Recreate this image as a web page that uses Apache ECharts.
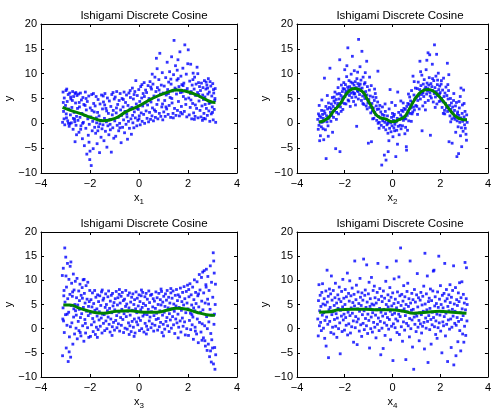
<!DOCTYPE html>
<html><head><meta charset="utf-8">
<script src="https://cdn.jsdelivr.net/npm/echarts@6/dist/echarts.min.js"></script>
<style>html,body{margin:0;padding:0;background:#fff}#c{width:494px;height:411px}</style>
</head><body><div id="c"></div>
<script>
const titleText = 'Ishigami Discrete Cosine';
const xSubs = ['1','2','3','4'];
const xTicks = [-4,-2,0,2,4];
const yTicks = [-10,-5,0,5,10,15,20];

const pts1 = [
[-3.12,0.2],[-3.1,6.3],[-3.08,2.4],[-3.05,5.1],[-3.03,-0.3],[-3.0,3.6],[-2.98,6.6],[-2.96,1.1],[-2.93,4.4],[-2.91,0.5],[-2.89,5.8],[-2.87,2.9],[-2.85,-0.6],[-2.83,6.1],[-2.8,1.7],[-2.78,4.9],[-2.76,0.1],[-2.74,3.2],[-2.71,6.4],[-2.69,-1.2],[-2.67,5.4],[-2.65,2.2],[-2.63,0.8],[-2.61,6.0],[-2.59,4.1],[-2.57,-0.4],[-2.55,1.4],[-2.53,5.6],[-2.51,3.0],[-3.06,0.9],[-2.95,6.9],[-2.82,-0.1],[-2.72,4.6],[-2.62,0.3],[-2.97,1.9],[-2.79,5.3],[-2.58,6.2],[-3.09,4.2],[-2.88,0.0],[-2.68,1.0],[-2.61,-3.7],[-2.55,-2.3],
[-2.49,0.6],[-2.47,5.9],[-2.45,-1.8],[-2.43,3.3],[-2.41,1.2],[-2.39,6.1],[-2.37,-0.5],[-2.35,4.7],[-2.33,2.0],[-2.31,-3.1],[-2.29,5.2],[-2.27,0.2],[-2.25,3.8],[-2.23,-4.5],[-2.21,1.6],[-2.19,6.3],[-2.17,-1.0],[-2.15,2.7],[-2.13,-6.2],[-2.11,4.4],[-2.09,0.9],[-2.07,-2.4],[-2.05,5.5],[-2.03,-0.2],[-2.01,-7.3],[-1.99,3.1],[-1.97,1.3],[-1.95,-8.5],[-1.93,5.8],[-1.91,-1.5],[-1.89,0.4],[-1.87,-5.1],[-1.85,4.0],[-1.83,2.3],[-1.81,-0.8],[-2.44,4.2],[-2.3,0.0],[-2.16,5.0],[-2.04,-3.8],[-1.92,2.6],[-2.38,-1.2],[-2.2,3.6],[-2.0,-5.6],[-1.86,6.0],
[-1.79,3.5],[-1.77,-2.0],[-1.75,5.4],[-1.73,0.1],[-1.71,-4.1],[-1.69,2.2],[-1.67,4.8],[-1.65,-0.7],[-1.63,1.5],[-1.61,-5.9],[-1.59,3.9],[-1.57,0.6],[-1.55,-2.8],[-1.53,5.7],[-1.51,-1.1],[-1.49,2.9],[-1.47,-0.3],[-1.45,4.3],[-1.43,-3.5],[-1.41,1.0],[-1.39,6.0],[-1.37,-1.6],[-1.35,3.0],[-1.33,0.3],[-1.31,-4.8],[-1.29,5.1],[-1.27,-0.5],[-1.25,2.0],[-1.23,-2.3],[-1.21,4.5],[-1.19,0.8],[-1.17,-1.3],[-1.15,3.4],[-1.13,-5.8],[-1.11,5.8],[-1.09,1.7],[-1.07,-0.9],[-1.05,2.6],[-1.03,-3.0],[-1.01,4.9],[-1.74,1.1],[-1.6,-0.1],[-1.46,5.5],[-1.32,2.5],[-1.18,-0.2],[-1.06,6.2],[-1.68,-1.5],[-1.4,3.7],
[-0.99,0.5],[-0.97,5.3],[-0.95,-2.6],[-0.93,2.1],[-0.91,6.4],[-0.89,-0.4],[-0.87,3.8],[-0.85,1.2],[-0.83,-1.5],[-0.81,4.6],[-0.79,0.0],[-0.77,6.0],[-0.75,2.7],[-0.73,-3.9],[-0.71,1.6],[-0.69,5.0],[-0.67,-0.8],[-0.65,3.3],[-0.63,0.7],[-0.61,6.3],[-0.59,-1.9],[-0.57,2.4],[-0.55,4.2],[-0.53,-0.2],[-0.51,5.7],[-0.49,1.3],[-0.47,-3.2],[-0.45,3.6],[-0.43,0.4],[-0.41,6.1],[-0.39,-1.0],[-0.37,2.9],[-0.35,5.2],[-0.33,0.9],[-0.31,-2.2],[-0.92,3.1],[-0.78,-0.9],[-0.64,4.8],[-0.5,1.9],[-0.36,6.6],
[-0.29,3.2],[-0.27,7.1],[-0.25,0.1],[-0.23,4.9],[-0.21,-0.9],[-0.19,2.3],[-0.17,6.4],[-0.15,1.1],[-0.13,8.6],[-0.11,3.9],[-0.09,-0.5],[-0.07,5.6],[-0.05,0.6],[-0.03,2.8],[-0.01,6.8],[0.01,1.5],[0.03,4.4],[0.05,-0.3],[0.07,7.4],[0.09,2.1],[0.11,5.1],[0.13,0.4],[0.15,3.5],[0.17,6.0],[0.19,1.8],[0.21,8.2],[0.23,0.0],[0.25,4.1],[0.27,6.7],[0.29,2.5],[-0.2,5.8],[0.0,0.9],[0.12,7.8],[-0.08,3.0],[0.22,5.4],[-0.26,1.6],
[0.31,6.2],[0.33,1.0],[0.35,3.7],[0.37,7.6],[0.39,0.3],[0.41,5.0],[0.43,2.2],[0.45,8.4],[0.47,0.8],[0.49,4.3],[0.51,6.9],[0.53,1.5],[0.55,3.1],[0.57,7.9],[0.59,0.5],[0.61,5.5],[0.63,2.7],[0.65,9.3],[0.67,1.2],[0.69,6.4],[0.71,13.1],[0.73,3.8],[0.75,7.2],[0.77,0.9],[0.79,4.7],[0.81,8.8],[0.83,2.0],[0.85,14.1],[0.87,5.9],[0.89,1.4],[0.91,7.7],[0.93,3.3],[0.95,10.2],[0.97,0.7],[0.99,6.1],[0.4,4.6],[0.54,9.9],[0.68,2.4],[0.82,6.7],[0.96,3.9],[0.48,7.3],[0.74,11.0],
[1.01,2.3],[1.03,7.5],[1.05,4.6],[1.07,1.4],[1.09,9.2],[1.11,5.7],[1.13,2.9],[1.15,12.3],[1.17,6.8],[1.19,1.8],[1.21,8.3],[1.23,3.6],[1.25,10.4],[1.27,5.2],[1.29,1.2],[1.31,7.9],[1.33,13.4],[1.35,4.1],[1.37,6.5],[1.39,2.0],[1.41,9.8],[1.43,16.7],[1.45,3.0],[1.47,7.1],[1.49,11.6],[1.51,1.6],[1.53,5.9],[1.55,8.7],[1.57,2.6],[1.59,12.8],[1.61,4.4],[1.63,7.4],[1.65,1.5],[1.67,14.4],[1.69,6.2],[1.71,9.5],[1.73,3.4],[1.75,7.8],[1.77,1.9],[1.79,11.1],[1.81,5.4],[1.83,8.1],[1.85,2.4],[1.87,15.8],[1.89,6.6],[1.91,3.8],[1.93,9.9],[1.95,1.3],[1.97,7.0],[1.99,12.0],[1.1,3.3],[1.2,6.0],[1.3,8.9],[1.4,1.1],[1.5,6.8],[1.6,9.0],[1.7,2.2],[1.8,7.6],[1.9,4.9],[1.56,10.7],[1.34,5.0],[1.76,6.3],
[2.01,14.8],[2.03,5.1],[2.05,1.7],[2.07,8.5],[2.09,3.2],[2.11,11.9],[2.13,6.4],[2.15,0.9],[2.17,7.7],[2.19,4.0],[2.21,10.1],[2.23,2.1],[2.25,6.9],[2.27,9.3],[2.29,1.4],[2.31,5.6],[2.33,7.9],[2.35,3.0],[2.37,11.3],[2.39,6.2],[2.41,1.1],[2.43,8.2],[2.45,4.5],[2.47,7.4],[2.49,2.6],[2.1,6.0],[2.2,8.8],[2.3,3.7],[2.4,10.0],[2.26,0.8],[2.44,5.8],[2.12,4.7],
[2.51,6.6],[2.53,1.3],[2.55,8.1],[2.57,3.5],[2.59,0.6],[2.61,7.2],[2.63,4.8],[2.65,2.0],[2.67,8.6],[2.69,5.3],[2.71,0.9],[2.73,6.9],[2.75,3.0],[2.77,7.7],[2.79,1.6],[2.81,5.9],[2.83,9.0],[2.85,2.5],[2.87,6.3],[2.89,0.4],[2.91,4.2],[2.93,7.5],[2.95,1.9],[2.97,5.5],[2.99,3.3],[3.01,8.0],[3.03,0.7],[3.05,6.1],[3.07,2.8],[3.09,4.6],[3.11,7.0],[3.13,0.2],[2.6,5.7],[2.7,3.8],[2.8,7.1],[2.9,8.4],[3.0,2.2],[3.1,5.0],[2.64,1.0],[2.86,4.0],[3.04,6.8],[2.74,8.3]
];

const pts2 = [
[-3.13,0.8],[-3.11,-1.2],[-3.1,1.9],[-3.08,-0.4],[-3.07,3.6],[-3.05,-3.5],[-3.04,0.3],[-3.02,-2.5],[-3.0,1.2],[-2.98,-0.7],[-2.96,4.7],[-2.95,0.2],[-2.93,1.8],[-2.91,-1.1],[-2.9,1.0],[-2.88,-3.3],[-2.86,2.5],[-2.85,9.1],[-2.83,2.0],[-2.81,-1.3],[-2.79,3.4],[-2.78,-7.1],[-2.76,1.5],[-2.74,0.3],[-2.72,2.9],[-2.7,-0.5],[-2.68,4.1],[-2.66,1.0],[-2.64,3.2],[-2.62,11.1],[-2.6,2.2],[-2.58,0.4],[-2.56,3.9],[-2.54,1.6],[-2.52,5.2],[-2.51,-1.8],[-2.97,2.6],[-2.87,0.4],[-2.73,5.6],[-2.57,2.9],[-3.06,1.5],[-2.69,-2.6],
[-2.49,3.4],[-2.47,1.2],[-2.45,4.5],[-2.43,2.6],[-2.41,6.3],[-2.39,3.0],[-2.38,-5.1],[-2.36,4.8],[-2.34,2.2],[-2.32,5.9],[-2.3,3.6],[-2.28,7.2],[-2.26,1.9],[-2.24,4.9],[-2.22,6.0],[-2.21,12.8],[-2.2,-5.7],[-2.18,3.3],[-2.16,5.6],[-2.14,7.7],[-2.12,4.2],[-2.1,6.4],[-2.08,2.8],[-2.06,5.3],[-2.04,8.2],[-2.02,4.0],[-2.0,10.8],[-2.01,6.9],[-2.44,5.3],[-2.35,0.8],[-2.27,4.0],[-2.15,2.4],[-2.07,7.0],[-2.4,4.1],[-2.25,8.9],[-2.11,5.0],
[-1.99,5.4],[-1.97,7.8],[-1.95,3.9],[-1.94,6.5],[-1.92,9.4],[-1.9,5.9],[-1.88,7.3],[-1.87,15.2],[-1.86,4.7],[-1.84,6.8],[-1.82,8.6],[-1.8,5.6],[-1.79,7.4],[-1.77,3.4],[-1.75,6.1],[-1.73,9.9],[-1.71,7.0],[-1.7,5.2],[-1.68,13.5],[-1.67,8.1],[-1.65,6.3],[-1.63,4.4],[-1.61,7.7],[-1.6,10.6],[-1.58,6.0],[-1.56,8.4],[-1.54,5.3],[-1.52,7.2],[-1.5,-0.6],[-1.49,9.0],[-1.47,6.6],[-1.45,8.0],[-1.43,4.9],[-1.42,16.9],[-1.4,7.5],[-1.38,5.8],[-1.36,11.4],[-1.34,6.9],[-1.32,8.7],[-1.3,4.6],[-1.28,14.5],[-1.27,7.1],[-1.25,5.5],[-1.23,9.3],[-1.21,6.2],[-1.2,3.8],[-1.18,7.9],[-1.16,5.0],[-1.14,10.2],[-1.12,6.4],[-1.1,3.5],[-1.08,12.5],[-1.07,5.7],[-1.05,7.4],[-1.03,4.1],[-1.01,-4.0],[-1.96,6.1],[-1.83,4.5],[-1.74,8.3],[-1.62,5.9],[-1.55,3.7],[-1.44,6.4],[-1.35,7.9],[-1.24,4.0],[-1.15,8.2],[-1.06,2.9],[-1.91,11.6],[-1.46,10.3],
[-0.99,4.8],[-0.97,6.7],[-0.95,3.2],[-0.93,5.5],[-0.91,2.1],[-0.89,7.6],[-0.88,-3.7],[-0.86,4.0],[-0.84,2.5],[-0.82,5.3],[-0.8,3.1],[-0.78,1.0],[-0.76,4.6],[-0.74,2.2],[-0.72,6.0],[-0.7,1.7],[-0.68,3.5],[-0.66,0.6],[-0.64,2.8],[-0.62,4.3],[-0.61,10.5],[-0.59,1.4],[-0.57,2.9],[-0.55,0.2],[-0.53,3.6],[-0.51,1.1],[-0.49,2.3],[-0.47,-0.4],[-0.45,-8.4],[-0.43,1.8],[-0.41,0.5],[-0.96,9.3],[-0.83,0.9],[-0.69,5.2],[-0.56,-1.0],[-0.42,3.3],[-0.75,6.9],[-0.6,0.0],
[-0.39,0.9],[-0.37,-0.8],[-0.35,1.6],[-0.34,-6.4],[-0.32,0.2],[-0.3,2.4],[-0.28,-1.3],[-0.27,-7.4],[-0.25,0.7],[-0.23,-0.3],[-0.21,1.5],[-0.19,-2.0],[-0.18,-5.7],[-0.16,0.4],[-0.14,2.9],[-0.12,-1.0],[-0.1,6.8],[-0.08,0.1],[-0.06,-1.7],[-0.04,1.2],[-0.02,-0.5],[0.0,2.0],[0.02,-2.7],[0.04,0.6],[0.06,-0.9],[0.08,1.8],[0.1,-0.2],[0.12,3.6],[0.14,-6.7],[0.16,0.3],[0.18,-1.4],[0.2,1.0],[0.22,6.3],[0.24,-0.6],[0.26,2.2],[0.28,-2.3],[0.3,0.8],[0.32,-0.4],[0.34,1.7],[0.36,-1.1],[0.38,2.6],[-0.31,3.9],[-0.15,-3.5],[-0.03,4.2],[0.09,-1.5],[0.21,-4.2],[0.35,4.5],[-0.2,0.0],[0.05,1.4],
[0.4,1.3],[0.42,-0.5],[0.44,2.4],[0.46,0.6],[0.48,3.0],[0.5,1.0],[0.52,-2.1],[0.54,2.8],[0.56,0.9],[0.58,-4.7],[0.59,-5.4],[0.6,3.4],[0.62,1.6],[0.64,4.0],[0.66,2.2],[0.68,0.5],[0.7,3.8],[0.72,5.3],[0.74,2.0],[0.76,4.5],[0.78,3.1],[0.8,6.6],[0.82,1.9],[0.84,4.2],[0.86,9.5],[0.88,3.3],[0.9,5.7],[0.92,2.7],[0.94,4.9],[0.96,7.1],[0.98,3.6],[0.45,4.1],[0.55,-0.8],[0.67,5.9],[0.79,0.4],[0.91,8.4],[0.63,-1.4],[0.85,2.3],
[1.0,5.2],[1.02,3.4],[1.04,7.0],[1.06,4.6],[1.08,8.3],[1.1,5.5],[1.12,2.9],[1.14,6.8],[1.15,12.5],[1.17,4.9],[1.19,7.6],[1.21,5.8],[1.23,9.7],[1.25,6.3],[1.27,3.5],[1.29,7.9],[1.31,5.4],[1.33,8.8],[1.35,6.9],[1.37,4.2],[1.39,7.3],[1.41,10.8],[1.43,5.9],[1.45,8.1],[1.47,6.5],[1.49,14.2],[1.5,4.6],[1.52,7.7],[1.54,9.2],[1.56,13.8],[1.57,6.2],[1.59,-2.4],[1.61,8.0],[1.63,5.1],[1.65,7.4],[1.67,11.9],[1.69,6.6],[1.71,4.3],[1.73,8.6],[1.75,6.0],[1.76,15.8],[1.78,7.2],[1.8,5.3],[1.82,9.5],[1.84,6.4],[1.86,3.9],[1.88,7.8],[1.9,5.6],[1.92,10.1],[1.94,6.8],[1.96,4.4],[1.98,7.5],[1.05,1.8],[1.18,10.4],[1.28,6.1],[1.38,2.7],[1.48,7.0],[1.58,5.5],[1.68,9.0],[1.79,3.2],[1.89,8.7],[1.97,5.9],[1.24,-1.5],[1.44,12.7],[1.85,13.9],
[2.0,6.2],[2.02,4.6],[2.04,7.9],[2.06,5.0],[2.08,3.2],[2.1,6.7],[2.12,4.3],[2.14,9.1],[2.16,5.4],[2.18,2.6],[2.2,6.1],[2.22,4.0],[2.24,7.3],[2.26,3.1],[2.28,5.6],[2.3,12.1],[2.31,2.4],[2.33,4.9],[2.35,6.6],[2.36,9.8],[2.37,-3.7],[2.39,3.6],[2.41,1.5],[2.43,5.0],[2.45,2.8],[2.47,4.1],[2.49,0.9],[2.5,-4.0],[2.52,3.3],[2.54,2.1],[2.56,4.6],[2.58,1.2],[2.05,8.6],[2.19,1.9],[2.32,7.8],[2.44,0.3],[2.57,6.0],[2.13,2.0],
[2.6,2.6],[2.62,0.8],[2.64,3.5],[2.66,1.4],[2.68,4.2],[2.7,-6.7],[2.71,0.5],[2.73,2.3],[2.75,-0.7],[2.77,-6.1],[2.78,1.6],[2.8,3.1],[2.82,0.2],[2.84,5.4],[2.86,1.1],[2.87,7.1],[2.89,-0.9],[2.9,-4.7],[2.92,2.0],[2.94,0.4],[2.96,-1.6],[2.98,6.7],[3.0,1.3],[3.02,-0.3],[3.04,2.4],[3.06,0.7],[3.08,-2.2],[3.1,-3.4],[3.11,1.7],[3.13,0.2],[2.65,-1.8],[2.79,4.4],[2.93,3.7],[3.05,-1.0],[2.72,1.9],[3.0,4.0],[2.85,-2.5]
];

const pts3 = [
[-3.13,11.0],[-3.12,-5.6],[-3.1,4.3],[-3.09,12.5],[-3.08,1.6],[-3.06,7.9],[-3.05,-0.8],[-3.03,16.7],[-3.02,5.5],[-3.0,2.9],[-2.99,14.8],[-2.97,-4.0],[-2.96,8.6],[-2.94,0.7],[-2.92,13.5],[-2.91,6.2],[-2.89,-6.8],[-2.87,3.4],[-2.86,10.2],[-2.84,-1.7],[-2.82,7.1],[-2.81,12.9],[-2.79,-5.9],[-2.77,4.8],[-2.75,9.4],[-2.74,1.2],[-2.72,6.7],[-2.7,-3.2],[-2.68,11.3],[-2.67,2.4],[-2.65,8.0],[-2.63,-1.1],[-2.62,5.0],[-2.6,9.8],[-3.07,6.8],[-2.93,3.0],[-2.8,0.4],[-2.66,4.1],[-2.98,10.9],[-2.85,-4.8],[-2.71,7.6],[-3.11,2.0],[-2.78,13.8],
[-2.59,3.7],[-2.57,0.1],[-2.55,6.4],[-2.53,10.4],[-2.52,-2.1],[-2.5,4.9],[-2.48,1.5],[-2.46,7.8],[-2.45,-0.4],[-2.43,5.8],[-2.41,9.2],[-2.39,2.3],[-2.37,-1.5],[-2.36,6.9],[-2.34,3.1],[-2.32,8.5],[-2.3,0.6],[-2.28,10.1],[-2.27,4.4],[-2.25,-2.6],[-2.23,7.3],[-2.21,1.9],[-2.2,5.3],[-2.18,-0.9],[-2.16,8.9],[-2.14,3.6],[-2.12,6.1],[-2.1,0.2],[-2.09,9.6],[-2.07,2.7],[-2.05,-1.8],[-2.03,5.6],[-2.01,7.9],[-2.56,2.8],[-2.44,4.0],[-2.31,6.3],[-2.19,1.1],[-2.06,4.6],[-2.4,-0.8],[-2.24,10.2],
[-1.99,3.2],[-1.98,-1.6],[-1.96,6.0],[-1.94,0.8],[-1.92,4.5],[-1.9,7.4],[-1.89,2.1],[-1.87,-0.6],[-1.85,5.2],[-1.83,1.4],[-1.81,7.9],[-1.8,3.8],[-1.78,-1.2],[-1.76,6.5],[-1.74,0.3],[-1.72,4.1],[-1.71,2.6],[-1.69,7.0],[-1.67,-0.2],[-1.65,5.6],[-1.63,1.8],[-1.62,3.5],[-1.6,6.8],[-1.58,0.5],[-1.56,4.8],[-1.54,2.2],[-1.53,7.6],[-1.51,-0.9],[-1.49,3.0],[-1.47,5.9],[-1.45,1.1],[-1.44,6.3],[-1.42,2.9],[-1.4,-0.4],[-1.38,4.4],[-1.36,7.2],[-1.35,1.6],[-1.33,5.0],[-1.31,0.0],[-1.29,3.7],[-1.27,6.6],[-1.26,2.4],[-1.24,7.8],[-1.22,0.9],[-1.2,4.2],[-1.18,-0.7],[-1.17,5.7],[-1.15,2.0],[-1.13,6.9],[-1.11,3.3],[-1.09,0.4],[-1.08,7.3],[-1.06,4.7],[-1.04,1.3],[-1.02,5.4],[-1.0,-0.3],
[-0.99,3.9],[-0.97,6.2],[-0.95,1.7],[-0.93,7.7],[-0.91,2.7],[-0.9,0.2],[-0.88,4.9],[-0.86,6.4],[-0.84,1.0],[-0.82,3.4],[-0.81,7.1],[-0.79,-0.5],[-0.77,5.3],[-0.75,2.3],[-0.73,6.7],[-0.72,0.7],[-0.7,4.0],[-0.68,7.5],[-0.66,1.9],[-0.64,5.8],[-0.63,-0.8],[-0.61,3.1],[-0.59,6.1],[-0.57,0.1],[-0.55,4.6],[-0.54,7.9],[-0.52,2.5],[-0.5,5.1],[-0.48,-0.1],[-0.46,3.6],[-0.45,6.9],[-0.43,1.2],[-0.41,4.3],[-0.39,7.4],[-0.37,0.6],[-0.36,2.8],[-0.34,5.5],[-0.32,-0.6],[-0.3,6.5],[-0.28,1.5],[-0.27,3.8],[-0.25,7.2],[-0.23,0.3],[-0.21,5.0],[-0.19,2.0],[-0.18,6.0],[-0.16,-0.9],[-0.14,4.1],[-0.12,7.6],[-0.1,1.4],[-0.09,3.3],[-0.07,6.3],[-0.05,0.8],[-0.03,4.7],[-0.01,2.2],
[0.0,7.0],[0.02,-0.4],[0.04,5.6],[0.06,1.7],[0.07,3.9],[0.09,6.8],[0.11,0.0],[0.13,4.4],[0.15,7.5],[0.16,2.6],[0.18,5.2],[0.2,-0.7],[0.22,3.0],[0.24,6.6],[0.25,1.1],[0.27,4.8],[0.29,7.3],[0.31,0.5],[0.33,2.9],[0.34,6.1],[0.36,-0.2],[0.38,4.0],[0.4,7.8],[0.42,1.6],[0.43,5.4],[0.45,2.4],[0.47,6.9],[0.49,0.2],[0.51,3.5],[0.52,7.1],[0.54,1.0],[0.56,4.5],[0.58,6.2],[0.6,-0.5],[0.61,2.7],[0.63,5.7],[0.65,0.7],[0.67,4.2],[0.69,7.6],[0.7,1.9],[0.72,3.2],[0.74,6.4],[0.76,-0.3],[0.78,5.0],[0.79,2.1],[0.81,7.3],[0.83,0.4],[0.85,3.7],[0.87,6.0],[0.88,1.3],[0.9,4.9],[0.92,7.7],[0.94,-0.8],[0.96,2.8],[0.97,5.5],[0.99,0.9],
[1.01,6.7],[1.03,3.4],[1.05,-0.1],[1.06,4.6],[1.08,7.2],[1.1,1.5],[1.12,5.9],[1.14,2.3],[1.15,7.9],[1.17,0.6],[1.19,4.3],[1.21,6.5],[1.23,-0.6],[1.24,3.1],[1.26,5.3],[1.28,1.8],[1.3,7.4],[1.32,0.1],[1.33,4.1],[1.35,6.3],[1.37,2.5],[1.39,7.8],[1.41,0.8],[1.42,5.1],[1.44,3.6],[1.46,-1.0],[1.48,6.9],[1.5,2.0],[1.51,4.7],[1.53,8.1],[1.55,1.2],[1.57,5.8],[1.59,3.0],[1.6,7.0],[1.62,0.3],[1.64,4.4],[1.66,6.6],[1.68,1.6],[1.69,8.4],[1.71,-0.7],[1.73,3.8],[1.75,5.6],[1.77,2.2],[1.78,7.5],[1.8,0.5],[1.82,4.9],[1.84,8.7],[1.86,1.4],[1.87,6.2],[1.89,-1.3],[1.91,3.3],[1.93,7.7],[1.95,0.0],[1.96,5.3],[1.98,9.0],
[-1.7,-1.8],[-1.1,-1.4],[-0.4,-1.2],[0.3,-1.1],[1.0,-1.5],[1.6,-1.9],[-1.5,8.0],[-0.8,8.1],[0.1,8.0],[0.9,8.2],[-0.2,-1.6],[1.3,8.3],
[2.0,4.1],[2.02,-1.4],[2.04,6.6],[2.06,1.7],[2.08,9.3],[2.1,3.2],[2.11,-0.2],[2.13,7.0],[2.15,4.9],[2.17,0.8],[2.19,8.6],[2.2,2.4],[2.22,-2.2],[2.24,6.0],[2.26,10.1],[2.28,3.7],[2.29,0.3],[2.31,7.5],[2.33,5.2],[2.35,-1.1],[2.37,9.7],[2.38,2.0],[2.4,6.8],[2.42,-2.9],[2.44,4.5],[2.46,11.2],[2.47,1.3],[2.49,8.0],[2.51,3.4],[2.53,-0.7],[2.55,10.6],[2.56,5.7],[2.58,1.0],[2.6,11.7],[2.03,8.1],[2.16,2.9],[2.3,-0.5],[2.43,7.2],[2.57,-2.4],[2.23,4.3],
[2.61,3.9],[2.63,-1.9],[2.64,7.4],[2.66,12.0],[2.68,0.6],[2.7,5.3],[2.71,-3.6],[2.73,9.1],[2.75,12.3],[2.76,2.5],[2.78,-4.5],[2.8,6.1],[2.81,10.8],[2.83,-3.2],[2.85,1.4],[2.86,7.9],[2.88,-5.8],[2.9,4.0],[2.91,13.0],[2.93,-1.0],[2.95,-6.9],[2.96,9.6],[2.98,2.8],[3.0,-4.0],[3.01,6.5],[3.03,15.7],[3.04,-7.3],[3.06,0.9],[3.07,11.5],[3.09,-3.9],[3.1,-8.4],[3.11,5.0],[3.12,9.2],[3.13,-5.4],[2.69,-2.5],[2.84,5.1],[2.97,-2.3],[3.08,3.0],[2.74,8.6],[2.92,-4.6],[3.05,14.0],[2.79,0.0]
];

const pts4 = [
[-3.13,2.0],[-3.11,-1.5],[-3.1,5.8],[-3.08,9.1],[-3.06,0.6],[-3.05,3.7],[-3.03,6.9],[-3.01,1.3],[-3.0,4.6],[-2.98,-0.4],[-2.96,7.5],[-2.94,2.8],[-2.93,9.3],[-2.91,5.1],[-2.89,0.1],[-2.88,3.3],[-2.86,6.2],[-2.84,-2.0],[-2.83,1.7],[-2.81,4.9],[-2.79,7.8],[-2.78,-3.6],[-2.76,2.4],[-2.74,12.1],[-2.73,5.5],[-2.71,0.9],[-2.69,6.7],[-2.68,-6.0],[-2.66,3.9],[-2.64,8.2],[-2.63,1.5],[-2.61,4.4],[-2.59,7.2],[-2.58,-0.8],[-2.56,10.9],[-2.54,2.9],[-2.53,5.9],[-2.51,0.3],[-2.49,3.5],[-2.48,7.9],[-2.46,-1.1],[-2.44,4.8],[-2.43,1.9],[-2.41,6.4],[-2.39,9.4],[-2.38,0.5],[-2.36,3.1],[-2.34,5.3],[-2.33,-1.8],[-2.31,2.2],[-2.29,7.0],[-2.28,4.2],[-2.26,0.0],[-2.24,6.1],[-2.23,8.6],[-2.21,1.2],[-2.19,-5.2],[-2.18,3.8],[-2.16,5.6],[-2.14,2.6],[-2.13,7.7],[-2.11,-0.6],[-2.09,4.5],[-2.08,10.2],[-2.06,1.8],[-2.04,6.3],[-2.03,3.0],[-2.01,-0.3],
[-1.99,5.0],[-1.98,8.1],[-1.96,2.3],[-1.94,0.7],[-1.93,6.6],[-1.91,4.0],[-1.89,11.5],[-1.88,-1.3],[-1.86,3.4],[-1.84,7.3],[-1.83,1.0],[-1.81,5.7],[-1.79,9.9],[-1.78,2.7],[-1.76,-0.9],[-1.74,6.8],[-1.73,4.3],[-1.71,0.4],[-1.69,8.4],[-1.68,3.2],[-1.66,5.4],[-1.64,1.6],[-1.63,-2.8],[-1.61,7.1],[-1.59,4.7],[-1.58,14.0],[-1.56,0.2],[-1.54,2.5],[-1.53,6.0],[-1.51,9.0],[-1.49,1.4],[-1.48,-3.3],[-1.46,4.1],[-1.44,7.6],[-1.43,2.0],[-1.41,5.2],[-1.39,-0.5],[-1.38,3.6],[-1.36,10.4],[-1.34,6.5],[-1.33,0.8],[-1.31,4.8],[-1.29,-1.6],[-1.28,7.4],[-1.26,2.9],[-1.24,5.9],[-1.23,1.1],[-1.21,14.4],[-1.19,3.7],[-1.18,-0.2],[-1.16,6.9],[-1.14,8.0],[-1.13,2.1],[-1.11,4.4],[-1.09,0.6],[-1.08,13.2],[-1.06,5.5],[-1.04,-1.0],[-1.03,3.0],[-1.01,7.2],
[-0.99,1.7],[-0.98,9.6],[-0.96,-4.0],[-0.94,4.6],[-0.93,6.2],[-0.91,0.0],[-0.89,2.4],[-0.88,10.6],[-0.86,5.1],[-0.84,-0.7],[-0.83,3.3],[-0.81,7.9],[-0.79,1.3],[-0.78,4.9],[-0.76,8.8],[-0.74,0.3],[-0.73,6.4],[-0.71,2.8],[-0.69,-1.9],[-0.68,5.3],[-0.66,3.9],[-0.64,7.5],[-0.63,0.9],[-0.61,13.5],[-0.59,2.2],[-0.58,6.0],[-0.56,-0.4],[-0.54,4.2],[-0.53,8.3],[-0.51,1.5],[-0.49,-5.4],[-0.48,3.4],[-0.46,6.7],[-0.44,0.1],[-0.43,5.6],[-0.41,2.6],[-0.39,-4.1],[-0.38,7.8],[-0.36,4.0],[-0.34,1.2],[-0.33,6.3],[-0.31,-1.4],[-0.29,3.1],[-0.28,9.8],[-0.26,5.0],[-0.24,0.7],[-0.23,12.7],[-0.21,2.3],[-0.19,7.0],[-0.18,4.5],[-0.16,-0.1],[-0.14,5.8],[-0.13,1.9],[-0.11,8.5],[-0.09,3.6],[-0.08,-2.3],[-0.06,6.5],[-0.04,0.5],[-0.03,4.7],[-0.01,2.9],
[0.01,7.4],[0.02,-6.6],[0.04,1.0],[0.06,5.2],[0.07,10.3],[0.09,3.2],[0.11,0.2],[0.12,6.1],[0.14,2.0],[0.16,14.0],[0.17,4.3],[0.19,-0.8],[0.21,7.6],[0.22,1.6],[0.24,5.4],[0.26,3.0],[0.27,10.7],[0.29,-1.2],[0.31,6.8],[0.32,2.5],[0.34,16.7],[0.36,4.8],[0.37,0.4],[0.39,7.1],[0.41,3.7],[0.42,-2.6],[0.44,5.7],[0.46,1.4],[0.47,8.9],[0.49,4.1],[0.51,-0.3],[0.52,6.6],[0.54,2.7],[0.56,-6.4],[0.57,5.0],[0.59,1.1],[0.61,7.7],[0.62,3.5],[0.64,9.4],[0.66,0.6],[0.67,4.6],[0.69,6.2],[0.71,-1.7],[0.72,2.1],[0.74,14.0],[0.76,5.3],[0.77,0.0],[0.79,3.8],[0.81,7.3],[0.82,1.8],[0.84,-3.8],[0.86,6.0],[0.87,4.0],[0.89,-8.4],[0.91,2.4],[0.92,8.1],[0.94,0.9],[0.96,5.5],[0.97,3.1],[0.99,-0.6],
[1.01,7.0],[1.02,2.6],[1.04,11.4],[1.06,4.5],[1.07,0.3],[1.09,6.4],[1.11,1.7],[1.12,-2.5],[1.14,3.3],[1.16,5.9],[1.17,1.0],[1.19,7.5],[1.21,2.9],[1.22,-0.9],[1.24,4.9],[1.26,0.5],[1.27,6.7],[1.29,3.6],[1.31,8.8],[1.32,1.3],[1.34,-4.2],[1.36,15.6],[1.37,5.1],[1.39,2.2],[1.41,0.1],[1.42,7.2],[1.44,3.9],[1.46,10.9],[1.47,1.5],[1.49,-7.0],[1.51,5.6],[1.52,2.7],[1.54,6.3],[1.56,-0.2],[1.57,4.2],[1.59,8.2],[1.61,1.9],[1.62,-3.2],[1.64,5.8],[1.66,0.8],[1.67,3.4],[1.69,7.8],[1.71,11.9],[1.72,2.3],[1.74,12.1],[1.76,0.4],[1.77,4.7],[1.79,6.6],[1.81,-1.2],[1.82,1.6],[1.84,5.2],[1.86,3.0],[1.87,-2.0],[1.89,7.6],[1.91,0.2],[1.92,4.4],[1.94,15.0],[1.96,1.2],[1.97,6.1],[1.99,2.8],
[2.01,8.9],[2.02,-0.5],[2.04,5.0],[2.06,3.5],[2.07,-5.0],[2.09,6.9],[2.11,1.4],[2.12,4.3],[2.14,0.6],[2.16,7.3],[2.17,2.5],[2.19,13.5],[2.21,5.7],[2.22,-1.5],[2.24,3.2],[2.26,8.1],[2.27,0.9],[2.29,6.2],[2.31,-6.8],[2.32,4.6],[2.34,1.8],[2.36,7.0],[2.37,3.7],[2.39,-0.1],[2.41,9.1],[2.42,5.4],[2.44,2.0],[2.46,-3.9],[2.47,6.5],[2.49,0.3],[2.51,4.0],[2.52,7.9],[2.54,2.6],[2.56,13.0],[2.57,-7.5],[2.59,5.1],[2.61,1.1],[2.62,3.6],[2.64,8.5],[2.66,-5.6],[2.67,0.7],[2.69,6.0],[2.71,2.3],[2.72,4.8],[2.74,-2.7],[2.76,7.4],[2.77,1.5],[2.79,5.6],[2.81,9.5],[2.82,-0.4],[2.84,3.3],[2.86,-4.6],[2.87,6.4],[2.89,1.9],[2.91,9.7],[2.92,4.1],[2.94,-1.1],[2.96,2.7],[2.97,7.1],[2.99,-2.8],[3.01,5.3],[3.02,0.5],[3.04,13.7],[3.06,3.9],[3.07,-1.4],[3.09,6.2],[3.1,12.6],[3.12,1.6],[3.13,5.0]
];

const fit1 = [[-3.12,3.2],[-2.8,2.6],[-2.41,2.0],[-2.1,1.4],[-1.86,1.0],[-1.46,0.5],[-0.98,1.0],[-0.5,2.4],[0,3.5],[0.58,5.1],[1.13,6.2],[1.54,6.7],[1.95,6.4],[2.49,5.4],[2.9,4.4],[3.12,4.2]];
const fit2 = [[-3.08,0.2],[-2.85,0.6],[-2.65,1.3],[-2.45,2.6],[-2.24,3.6],[-2.0,5.4],[-1.84,6.4],[-1.6,7.0],[-1.4,6.8],[-1.22,6.2],[-1.05,4.8],[-0.88,3.4],[-0.7,1.8],[-0.5,1.1],[-0.3,0.9],[0,0.3],[0.3,0.8],[0.5,1.3],[0.65,2.4],[0.88,4.4],[1.05,5.6],[1.28,6.6],[1.5,6.8],[1.7,6.5],[1.96,5.4],[2.23,3.8],[2.45,2.4],[2.65,1.4],[2.9,0.8],[3.12,0.7]];
const fit3 = [[-3.09,4.9],[-2.82,4.9],[-2.41,4.2],[-1.86,3.4],[-1.46,3.2],[-0.91,3.6],[-0.37,3.7],[0.18,3.4],[0.72,3.4],[1.13,3.8],[1.54,4.2],[1.95,4.0],[2.35,3.4],[2.76,2.9],[3.1,2.75]];
const fit4 = [[-3.07,3.4],[-2.64,3.5],[-2.23,3.9],[-1.69,4.0],[-1.15,4.0],[-0.61,3.9],[-0.07,3.9],[0.47,3.6],[0.88,3.2],[1.42,3.4],[1.96,3.6],[2.5,3.4],[3.1,3.2]];

const scatters = [pts1, pts2, pts3, pts4];
const fits = [fit1, fit2, fit3, fit4];

const FONT = 'Liberation Sans, Arial, Helvetica, sans-serif';
const boxes = [
  {left: 41, top: 24}, {left: 297, top: 24},
  {left: 41, top: 232}, {left: 297, top: 232}
];
const W = 196, H = 149;
const fmt = v => (v < 0 ? '\u2212' + Math.abs(v) : String(v));

const grid = [], xAxis = [], yAxis = [], series = [], title = [];
boxes.forEach((b, i) => {
  grid.push({left: b.left, top: b.top, width: W, height: H, containLabel: false});
  const lineStyle = {color: '#000', width: 1};
  const tick = {show: true, inside: true, length: 3, lineStyle: {color: '#000', width: 1}};
  xAxis.push({
    type: 'value', gridIndex: i, min: xTicks[0], max: xTicks[xTicks.length - 1], interval: xTicks[1] - xTicks[0],
    position: 'bottom', splitLine: {show: false},
    axisLine: {show: true, onZero: false, lineStyle},
    axisTick: tick,
    axisLabel: {color: '#000', fontSize: 11, fontFamily: FONT, margin: 5, formatter: fmt, showMinLabel: true, showMaxLabel: true},
    name: '{n|x}{s|' + xSubs[i] + '}', nameLocation: 'middle', nameGap: 17,
    nameTextStyle: {color: '#000', fontFamily: FONT, rich: {
      n: {fontSize: 11, fontFamily: FONT, color: '#000'},
      s: {fontSize: 8, fontFamily: FONT, color: '#000', padding: [8, 0, 0, 0]}
    }}
  });
  xAxis.push({
    type: 'value', gridIndex: i, min: xTicks[0], max: xTicks[xTicks.length - 1], interval: xTicks[1] - xTicks[0],
    position: 'top', splitLine: {show: false},
    axisLine: {show: true, onZero: false, lineStyle},
    axisTick: tick, axisLabel: {show: false}
  });
  yAxis.push({
    type: 'value', gridIndex: i, min: yTicks[0], max: yTicks[yTicks.length - 1], interval: yTicks[1] - yTicks[0],
    position: 'left', splitLine: {show: false},
    axisLine: {show: true, onZero: false, lineStyle},
    axisTick: tick,
    axisLabel: {color: '#000', fontSize: 11, fontFamily: FONT, margin: 4, formatter: fmt, showMinLabel: true, showMaxLabel: true},
    name: 'y', nameLocation: 'middle', nameGap: 26, nameRotate: 90,
    nameTextStyle: {color: '#000', fontSize: 11, fontFamily: FONT}
  });
  yAxis.push({
    type: 'value', gridIndex: i, min: yTicks[0], max: yTicks[yTicks.length - 1], interval: yTicks[1] - yTicks[0],
    position: 'right', splitLine: {show: false},
    axisLine: {show: true, onZero: false, lineStyle},
    axisTick: tick, axisLabel: {show: false}
  });
  series.push({
    type: 'scatter', xAxisIndex: 2 * i, yAxisIndex: 2 * i, data: scatters[i],
    symbol: 'rect', symbolSize: 2.8, itemStyle: {color: '#0000ff'}, silent: true
  });
  series.push({
    type: 'line', xAxisIndex: 2 * i, yAxisIndex: 2 * i, data: fits[i], smooth: 0.5,
    showSymbol: false, symbol: 'none', lineStyle: {color: '#008000', width: 3}, silent: true, z: 5
  });
  title.push({
    text: titleText, left: b.left + W / 2, top: b.top - 19, textAlign: 'center',
    textStyle: {color: '#000', fontSize: 11.5, fontWeight: 'normal', fontFamily: FONT}
  });
});

const chart = echarts.init(document.getElementById('c'), null, {renderer: 'canvas'});
chart.setOption({
  backgroundColor: '#fff', animation: false,
  title, grid, xAxis, yAxis, series
});
</script>
</body></html>
